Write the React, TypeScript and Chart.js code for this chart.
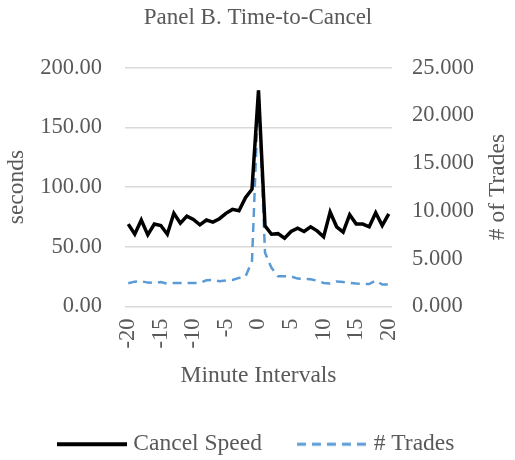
import React, { useEffect, useRef } from "react";
import { Chart, registerables } from "chart.js";

Chart.register(...registerables);

const minutes: number[] = Array.from({ length: 41 }, (_, i) => i - 20);

const cancelSpeed: number[] = [
  69.0, 60.5, 72.4, 60.0, 69.0, 67.8, 60.5, 78.0, 69.8, 75.7,
  72.9, 68.4, 72.4, 70.7, 73.5, 78.0, 81.3, 80.2, 91.0, 98.2,
  181.0, 67.6, 60.5, 61.0, 57.2, 62.8, 65.6, 62.8, 66.7, 63.3,
  58.3, 79.1, 66.7, 62.2, 76.9, 69.0, 69.0, 66.7, 78.5, 67.8,
  77.5,
];

const trades: number[] = [
  2430, 2600, 2640, 2500, 2460, 2560, 2390, 2460, 2460, 2460,
  2460, 2470, 2740, 2780, 2640, 2720, 2780, 2990, 3130, 4750,
  22600, 5620, 4040, 3170, 3160, 3150, 2920, 2880, 2850, 2700,
  2460, 2420, 2620, 2560, 2460, 2400, 2380, 2350, 2710, 2290,
  2300,
];

const leftTicks = { min: 0, max: 200, step: 50 };
const rightTicks = { min: 0, max: 25000, step: 5000 };

const FONT = "'Liberation Serif', 'Times New Roman', serif";
const GREY = "#595959";
const BLUE = "#5B9BD5";
const DASH = [9, 6];

function makeLegendLine(color: string, width: number, dash: number[]) {
  const c = document.createElement("canvas");
  c.width = 70;
  c.height = 8;
  const g = c.getContext("2d")!;
  g.strokeStyle = color;
  g.lineWidth = width;
  g.setLineDash(dash);
  g.beginPath();
  g.moveTo(0, 4);
  g.lineTo(70, 4);
  g.stroke();
  return c;
}

export default function App() {
  const ref = useRef<HTMLCanvasElement | null>(null);

  useEffect(() => {
    document.body.style.margin = "0";
    if (!ref.current) return;
    const legendImgs = [
      makeLegendLine("#000000", 4, []),
      makeLegendLine(BLUE, 3, DASH),
    ];
    const rightTitle = {
      id: "rightTitle",
      afterDraw(chart: any) {
        const s = chart.scales.y1;
        const ctx = chart.ctx;
        ctx.save();
        ctx.fillStyle = GREY;
        ctx.font = `23.5px ${FONT}`;
        ctx.textAlign = "center";
        ctx.textBaseline = "middle";
        ctx.translate(s.right - 15, (chart.chartArea.top + chart.chartArea.bottom) / 2);
        ctx.rotate(-Math.PI / 2);
        ctx.fillText("# of Trades", 0, 0);
        ctx.restore();
      },
    };
    const chart = new Chart(ref.current, {
      type: "line",
      data: {
        labels: minutes.map(String),
        datasets: [
          {
            label: "Cancel Speed",
            data: cancelSpeed,
            borderColor: "#000000",
            backgroundColor: "#000000",
            borderWidth: 3.5,
            pointRadius: 0,
            tension: 0,
            yAxisID: "y",
          },
          {
            label: "# Trades",
            data: trades,
            borderColor: BLUE,
            backgroundColor: BLUE,
            borderWidth: 2.5,
            borderDash: DASH,
            pointRadius: 0,
            tension: 0,
            yAxisID: "y1",
          },
        ],
      },
      plugins: [rightTitle],
      options: {
        animation: false,
        responsive: false,
        layout: { padding: { left: 3, right: 2, top: 4, bottom: -6 } },
        plugins: {
          title: {
            display: true,
            text: "Panel B. Time-to-Cancel",
            color: GREY,
            font: { family: FONT, size: 23, weight: "normal" },
            padding: { top: 0, bottom: 36 },
          },
          legend: {
            position: "bottom",
            labels: {
              usePointStyle: true,
              pointStyleWidth: 60,
              color: GREY,
              font: { family: FONT, size: 23.5 },
              padding: 40,
              generateLabels: (ch: any) => {
                const items = Chart.defaults.plugins.legend.labels.generateLabels(ch);
                return items.map((it: any, i: number) => ({ ...it, pointStyle: legendImgs[i] }));
              },
            },
          },
          tooltip: { enabled: false },
        },
        scales: {
          x: {
            offset: true,
            grid: { display: false },
            border: { display: false },
            afterFit: (s: any) => {
              s.height = 86;
            },
            ticks: {
              autoSkip: false,
              maxRotation: 90,
              minRotation: 90,
              color: GREY,
              font: { family: FONT, size: 22.5 },
              padding: 4,
              callback: (_v: any, i: number) => (minutes[i] % 5 === 0 ? String(minutes[i]) : ""),
            },
            title: {
              display: true,
              text: "Minute Intervals",
              color: GREY,
              font: { family: FONT, size: 23.5 },
              padding: { top: -1, bottom: 3 },
            },
          },
          y: {
            position: "left",
            min: leftTicks.min,
            max: leftTicks.max,
            grid: { color: "#d9d9d9", lineWidth: 1.5, drawTicks: false },
            border: { display: false },
            afterFit: (s: any) => {
              s.width = 122;
            },
            ticks: {
              stepSize: leftTicks.step,
              color: GREY,
              font: { family: FONT, size: 22.5 },
              padding: 23,
              callback: (v: any) => Number(v).toFixed(2),
            },
            title: {
              display: true,
              text: "seconds",
              color: GREY,
              font: { family: FONT, size: 23.5 },
              padding: { top: 0, bottom: 0 },
            },
          },
          y1: {
            position: "right",
            min: rightTicks.min,
            max: rightTicks.max,
            grid: { display: false, drawTicks: false },
            border: { display: false },
            afterFit: (s: any) => {
              s.width = 121;
            },
            ticks: {
              stepSize: rightTicks.step,
              color: GREY,
              font: { family: FONT, size: 22.5 },
              padding: 20,
              callback: (v: any) => (Number(v) / 1000).toFixed(3),
            },
            title: {
              display: true,
              text: "# of Trades",
              color: "rgba(0,0,0,0)",
              font: { family: FONT, size: 23.5 },
              padding: { top: 0, bottom: 4 },
            },
          },
        },
      },
    });
    return () => chart.destroy();
  }, []);

  return <canvas ref={ref} width={515} height={460} style={{ display: "block" }} />;
}
